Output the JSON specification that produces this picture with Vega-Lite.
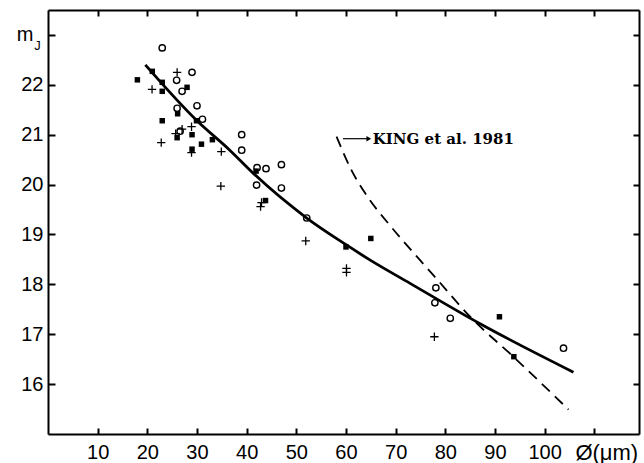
{
  "$schema": "https://vega.github.io/schema/vega-lite/v6.json",
  "width": 591,
  "height": 424,
  "autosize": "none",
  "padding": {"left": 48, "top": 10, "right": 5, "bottom": 29},
  "background": "white",
  "config": {"view": {"stroke": null}},
  "datasets": {
    "pts": [
      {"x": 23.0, "y": 22.74, "type": "o"},
      {"x": 29.0, "y": 22.25, "type": "o"},
      {"x": 25.9, "y": 22.09, "type": "o"},
      {"x": 27.0, "y": 21.87, "type": "o"},
      {"x": 30.0, "y": 21.58, "type": "o"},
      {"x": 26.0, "y": 21.53, "type": "o"},
      {"x": 31.1, "y": 21.31, "type": "o"},
      {"x": 26.6, "y": 21.07, "type": "o"},
      {"x": 39.0, "y": 21.0, "type": "o"},
      {"x": 39.0, "y": 20.69, "type": "o"},
      {"x": 42.1, "y": 20.34, "type": "o"},
      {"x": 43.9, "y": 20.32, "type": "o"},
      {"x": 47.0, "y": 20.4, "type": "o"},
      {"x": 42.0, "y": 19.99, "type": "o"},
      {"x": 47.0, "y": 19.93, "type": "o"},
      {"x": 52.1, "y": 19.33, "type": "o"},
      {"x": 78.1, "y": 17.93, "type": "o"},
      {"x": 77.9, "y": 17.63, "type": "o"},
      {"x": 81.0, "y": 17.32, "type": "o"},
      {"x": 103.8, "y": 16.72, "type": "o"},
      {"x": 18.0, "y": 22.1, "type": "s"},
      {"x": 21.0, "y": 22.27, "type": "s"},
      {"x": 23.0, "y": 22.05, "type": "s"},
      {"x": 23.0, "y": 21.87, "type": "s"},
      {"x": 28.0, "y": 21.95, "type": "s"},
      {"x": 26.1, "y": 21.42, "type": "s"},
      {"x": 29.9, "y": 21.28, "type": "s"},
      {"x": 23.0, "y": 21.28, "type": "s"},
      {"x": 26.0, "y": 20.94, "type": "s"},
      {"x": 29.0, "y": 21.0, "type": "s"},
      {"x": 30.9, "y": 20.81, "type": "s"},
      {"x": 29.0, "y": 20.71, "type": "s"},
      {"x": 33.1, "y": 20.9, "type": "s"},
      {"x": 41.9, "y": 20.27, "type": "s"},
      {"x": 43.8, "y": 19.68, "type": "s"},
      {"x": 60.0, "y": 18.75, "type": "s"},
      {"x": 65.0, "y": 18.92, "type": "s"},
      {"x": 90.9, "y": 17.35, "type": "s"},
      {"x": 93.8, "y": 16.55, "type": "s"},
      {"x": 26.0, "y": 22.25, "type": "p"},
      {"x": 20.95, "y": 21.91, "type": "p"},
      {"x": 27.0, "y": 21.11, "type": "p"},
      {"x": 28.9, "y": 21.16, "type": "p"},
      {"x": 25.7, "y": 21.02, "type": "p"},
      {"x": 22.8, "y": 20.84, "type": "p"},
      {"x": 28.9, "y": 20.64, "type": "p"},
      {"x": 34.9, "y": 20.66, "type": "p"},
      {"x": 34.8, "y": 19.97, "type": "p"},
      {"x": 43.0, "y": 19.64, "type": "p"},
      {"x": 42.8, "y": 19.56, "type": "p"},
      {"x": 51.9, "y": 18.87, "type": "p"},
      {"x": 60.1, "y": 18.32, "type": "p"},
      {"x": 60.1, "y": 18.24, "type": "p"},
      {"x": 77.8, "y": 16.95, "type": "p"}
    ],
    "fit": [
      {"x": 19.6, "y": 22.4},
      {"x": 30.0, "y": 21.28},
      {"x": 36.6, "y": 20.69},
      {"x": 41.3, "y": 20.23},
      {"x": 52.1, "y": 19.33},
      {"x": 60.1, "y": 18.79},
      {"x": 64.8, "y": 18.49},
      {"x": 72.9, "y": 18.02},
      {"x": 87.0, "y": 17.21},
      {"x": 105.8, "y": 16.24}
    ],
    "king": [
      {"x": 58.1, "y": 20.96},
      {"x": 61.1, "y": 20.29},
      {"x": 64.8, "y": 19.69},
      {"x": 68.2, "y": 19.26},
      {"x": 74.6, "y": 18.52},
      {"x": 77.9, "y": 18.15},
      {"x": 85.3, "y": 17.32},
      {"x": 93.7, "y": 16.55},
      {"x": 104.8, "y": 15.49}
    ],
    "note": [
      {"x": 59.4, "x2": 64.6, "y": 20.92, "label": "KING et al. 1981", "tx": 65.4}
    ]
  },
  "encoding": {
    "x": {"field": "x", "type": "quantitative", "scale": {"domain": [0, 119], "nice": false, "zero": false}, "axis": null},
    "y": {"field": "y", "type": "quantitative", "scale": {"domain": [15, 23.5], "nice": false, "zero": false}, "axis": null}
  },
  "layer": [
    {
      "data": {"name": "fit"},
      "mark": {"type": "line", "interpolate": "monotone", "color": "black", "strokeWidth": 2.8},
      "encoding": {
        "x": {"field": "x", "type": "quantitative", "scale": {"domain": [0, 119], "nice": false, "zero": false},
          "axis": {"orient": "bottom", "values": [10, 20, 30, 40, 50, 60, 70, 80, 90, 100, 110],
            "labelExpr": "datum.value == 110 ? 'Ø(μm)' : datum.label",
            "labelFont": "Liberation Sans", "labelFontSize": {"condition": {"test": "datum.value == 110", "value": 22}, "value": 20},
            "labelColor": "black",
            "labelOffset": {"condition": {"test": "datum.value == 110", "value": 12}, "value": 0},
            "labelFlush": false, "labelOverlap": false, "labelPadding": 14,
            "tickSize": -6, "tickWidth": 2, "tickColor": "black",
            "domainColor": "black", "domainWidth": 2, "grid": false, "title": null}},
        "y": {"field": "y", "type": "quantitative", "scale": {"domain": [15, 23.5], "nice": false, "zero": false},
          "axis": {"orient": "left", "values": [16, 17, 18, 19, 20, 21, 22, 23],
            "labelExpr": "datum.value == 23 ? 'm' : datum.label",
            "labelFont": "Liberation Sans", "labelFontSize": 20, "labelColor": "black",
            "labelFlush": false, "labelOverlap": false,
            "labelPadding": {"condition": {"test": "datum.value == 23", "value": 22}, "value": 12},
            "tickSize": -7, "tickWidth": 2, "tickColor": "black",
            "domainColor": "black", "domainWidth": 2, "grid": false,
            "title": "J", "titleAngle": 0, "titleX": -11, "titleY": 39, "titleAlign": "center",
            "titleBaseline": "alphabetic", "titleFont": "Liberation Sans", "titleFontSize": 13,
            "titleFontWeight": "normal", "titleColor": "black"}}
      }
    },
    {
      "data": {"name": "king"},
      "mark": {"type": "line", "interpolate": "monotone", "color": "black", "strokeWidth": 1.8, "strokeDash": [11, 7]},
      "encoding": {
        "x": {"field": "x", "type": "quantitative", "scale": {"domain": [0, 119], "nice": false, "zero": false},
          "axis": {"orient": "top", "values": [10, 20, 30, 40, 50, 60, 70, 80, 90, 100, 110], "labels": false,
            "tickSize": -6, "tickWidth": 2, "tickColor": "black", "domainColor": "black", "domainWidth": 2, "grid": false, "title": null}},
        "y": {"field": "y", "type": "quantitative", "scale": {"domain": [15, 23.5], "nice": false, "zero": false},
          "axis": {"orient": "right", "values": [16, 17, 18, 19, 20, 21, 22, 23], "labels": false,
            "tickSize": -6, "tickWidth": 2, "tickColor": "black", "domainColor": "black", "domainWidth": 2, "grid": false, "title": null}}
      }
    },
    {
      "data": {"name": "pts"},
      "transform": [{"filter": "datum.type == 'o'"}],
      "mark": {"type": "point", "shape": "circle", "filled": false, "stroke": "black", "strokeWidth": 1.4, "size": 40, "opacity": 1}
    },
    {
      "data": {"name": "pts"},
      "transform": [{"filter": "datum.type == 's'"}],
      "mark": {"type": "point", "shape": "square", "filled": true, "fill": "black", "size": 30, "opacity": 1}
    },
    {
      "data": {"name": "pts"},
      "transform": [{"filter": "datum.type == 'p'"}],
      "mark": {"type": "point", "shape": "M-1,0H1M0,-1V1", "filled": false, "stroke": "black", "strokeWidth": 1.3, "size": 70, "opacity": 1}
    },
    {
      "data": {"name": "note"},
      "mark": {"type": "rule", "color": "black", "strokeWidth": 1.2},
      "encoding": {"x2": {"field": "x2"}}
    },
    {
      "data": {"name": "note"},
      "mark": {"type": "point", "shape": "triangle-right", "filled": true, "fill": "black", "size": 30, "opacity": 1},
      "encoding": {"x": {"field": "x2", "type": "quantitative", "scale": {"domain": [0, 119], "nice": false, "zero": false}, "axis": null}}
    },
    {
      "data": {"name": "note"},
      "mark": {"type": "text", "align": "left", "baseline": "middle", "font": "DejaVu Serif", "fontWeight": "bold", "fontSize": 15, "color": "black"},
      "encoding": {
        "x": {"field": "tx", "type": "quantitative", "scale": {"domain": [0, 119], "nice": false, "zero": false}, "axis": null},
        "text": {"field": "label"}
      }
    }
  ],
  "resolve": {"axis": {"x": "independent", "y": "independent"}}
}
